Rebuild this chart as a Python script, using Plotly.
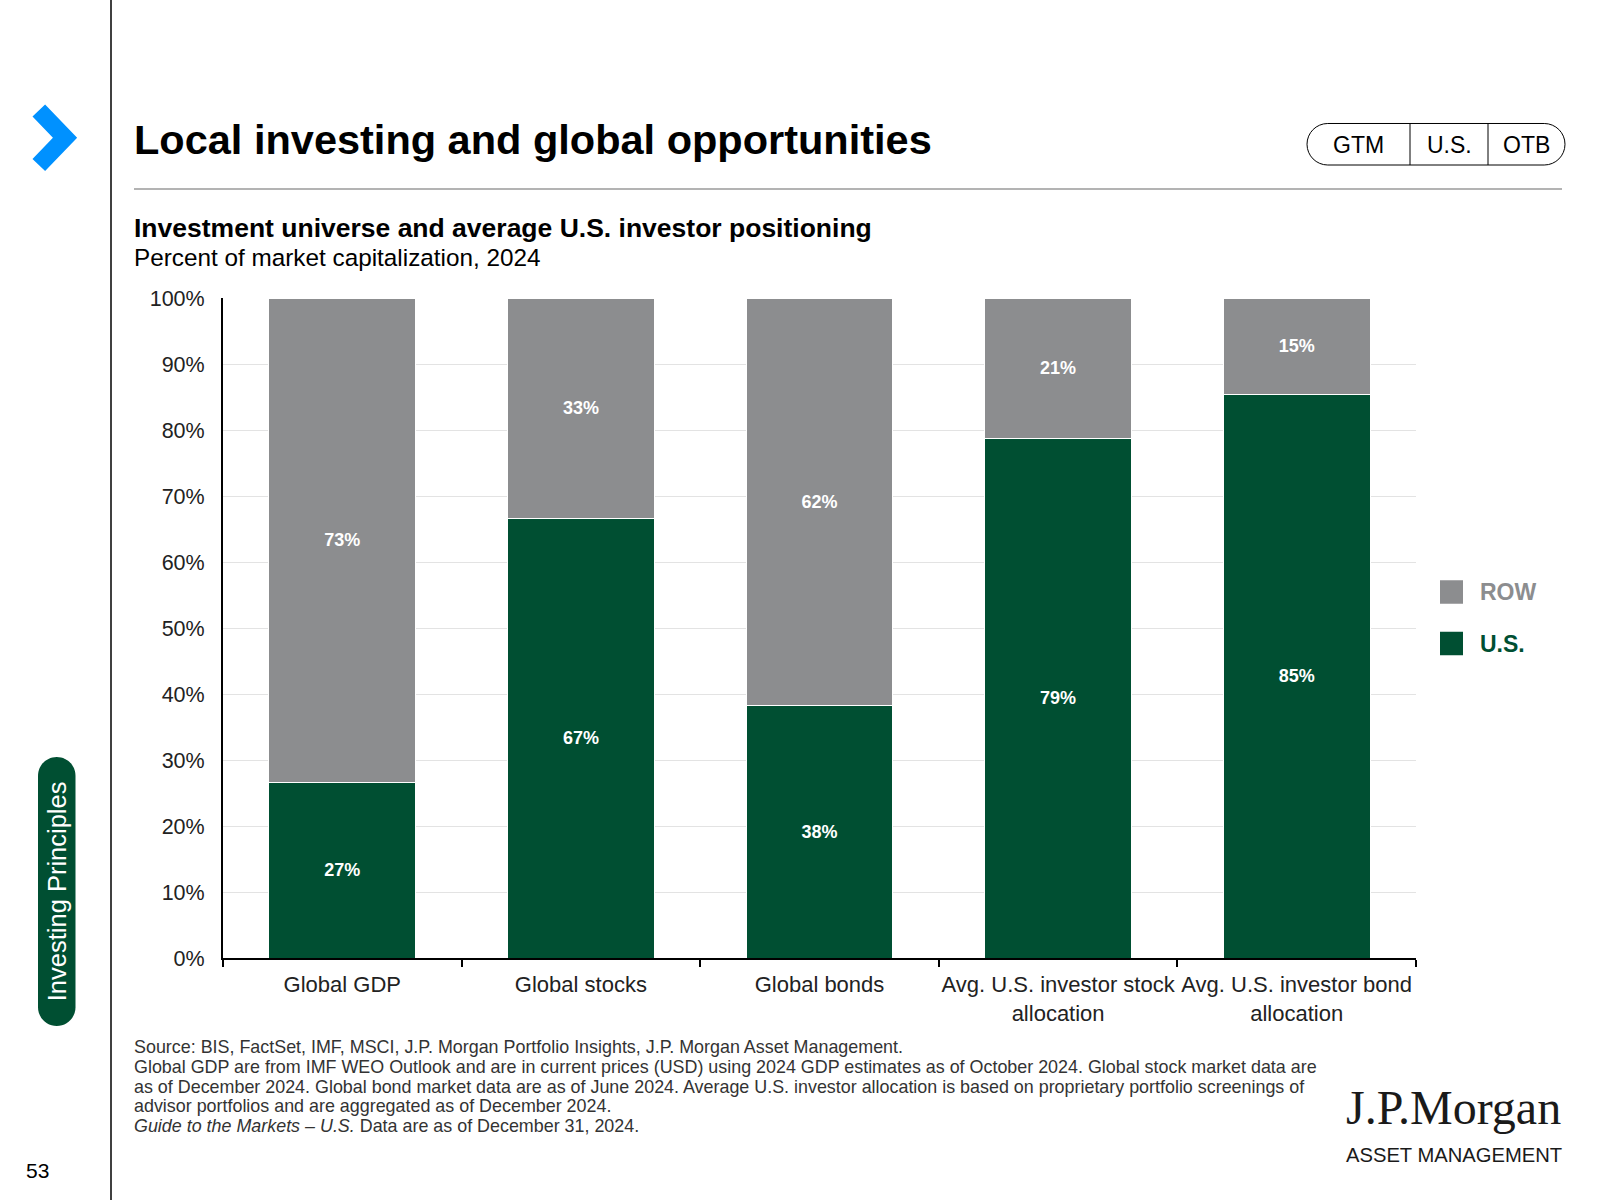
import plotly.graph_objects as go

# ---------------- data ----------------
categories = ["Global GDP", "Global stocks", "Global bonds",
              "Avg. U.S. investor stock<br>allocation",
              "Avg. U.S. investor bond<br>allocation"]
us_values = [26.6, 66.6, 38.3, 78.7, 85.4]
row_values = [73.4, 33.4, 61.7, 21.3, 14.6]
y_ticks = [0, 10, 20, 30, 40, 50, 60, 70, 80, 90, 100]
y_tick_labels = [f"{v}%" for v in y_ticks]

footnotes = [
    "Source: BIS, FactSet, IMF, MSCI, J.P. Morgan Portfolio Insights, J.P. Morgan Asset Management.",
    "Global GDP are from IMF WEO Outlook and are in current prices (USD) using 2024 GDP estimates as of October 2024. Global stock market data are",
    "as of December 2024. Global bond market data are as of June 2024. Average U.S. investor allocation is based on proprietary portfolio screenings of",
    "advisor portfolios and are aggregated as of December 2024.",
    "<i>Guide to the Markets – U.S.</i> Data are as of December 31, 2024.",
]

GREEN = "#004f32"
GRAY = "#8c8d8f"
BLUE = "#0091ff"
FONT = "Liberation Sans, Arial, sans-serif"

W, H = 1600, 1200
ML, MR, MT, MB = 223, 184, 298, 242
L, R, T, B = ML, W - MR, MT, H - MB


def px(x):
    return (x - L) / (R - L)


def py(y):
    return (B - y) / (B - T)


def path_from(points_cmds):
    out = []
    for cmd, pts in points_cmds:
        if cmd == "Z":
            out.append("Z")
            continue
        coords = " ".join(f"{px(x):.6f},{py(y):.6f}" for x, y in pts)
        out.append(f"{cmd} {coords}")
    return " ".join(out)


def rounded_rect(x0, y0, x1, y1, r):
    k = 0.5523 * r
    cmds = [
        ("M", [(x0 + r, y0)]),
        ("L", [(x1 - r, y0)]),
        ("C", [(x1 - r + k, y0), (x1, y0 + r - k), (x1, y0 + r)]),
        ("L", [(x1, y1 - r)]),
        ("C", [(x1, y1 - r + k), (x1 - r + k, y1), (x1 - r, y1)]),
        ("L", [(x0 + r, y1)]),
        ("C", [(x0 + r - k, y1), (x0, y1 - r + k), (x0, y1 - r)]),
        ("L", [(x0, y0 + r)]),
        ("C", [(x0, y0 + r - k), (x0 + r - k, y0), (x0 + r, y0)]),
        ("Z", []),
    ]
    return path_from(cmds)


fig = go.Figure()
fig.add_trace(go.Bar(
    x=categories, y=us_values, name="U.S.",
    marker=dict(color=GREEN, line=dict(color="white", width=1)),
    texttemplate="%{y:.0f}%", textposition="inside", insidetextanchor="middle",
    textangle=0,
    insidetextfont=dict(family=FONT, size=18, color="white", weight="bold"),
))
fig.add_trace(go.Bar(
    x=categories, y=row_values, name="ROW",
    marker=dict(color=GRAY, line=dict(color="white", width=1)),
    texttemplate="%{y:.0f}%", textposition="inside", insidetextanchor="middle",
    textangle=0,
    insidetextfont=dict(family=FONT, size=18, color="white", weight="bold"),
))

shapes = []
annotations = []

# left vertical divider
shapes.append(dict(type="line", xref="paper", yref="paper",
                   x0=px(111), x1=px(111), y0=py(0), y1=py(1200),
                   line=dict(color="black", width=1.5)))
# chevron
chev = path_from([("M", [(38.8, 110.5)]), ("L", [(65, 137.7)]), ("L", [(38.8, 165)])])
shapes.append(dict(type="path", xref="paper", yref="paper", path=chev,
                   line=dict(color=BLUE, width=17.5)))
# rule under title
shapes.append(dict(type="line", xref="paper", yref="paper",
                   x0=px(134), x1=px(1562), y0=py(189), y1=py(189),
                   line=dict(color="#9a9a9a", width=1.5)))
# GTM pill
shapes.append(dict(type="path", xref="paper", yref="paper",
                   path=rounded_rect(1307, 123.5, 1565, 165, 20.75),
                   line=dict(color="black", width=1)))
for xd in (1410, 1488):
    shapes.append(dict(type="line", xref="paper", yref="paper",
                       x0=px(xd), x1=px(xd), y0=py(123.5), y1=py(165),
                       line=dict(color="black", width=1)))
for label, xc in (("GTM", 1358), ("U.S.", 1449), ("OTB", 1526)):
    annotations.append(dict(text=label, xref="paper", yref="paper",
                            x=px(xc), y=py(145), xanchor="center", yanchor="middle",
                            showarrow=False, font=dict(family=FONT, size=23, color="black")))
# sidebar pill
shapes.append(dict(type="path", xref="paper", yref="paper",
                   path=rounded_rect(38, 757, 75.5, 1026, 18.75),
                   fillcolor=GREEN, line=dict(width=0)))
annotations.append(dict(text="Investing Principles", xref="paper", yref="paper",
                        x=px(56.75), y=py(891.5), xanchor="center", yanchor="middle",
                        textangle=-90, showarrow=False,
                        font=dict(family=FONT, size=25.5, color="white")))
# page number
annotations.append(dict(text="53", xref="paper", yref="paper",
                        x=px(37), y=py(1170), xanchor="center", yanchor="middle",
                        showarrow=False, font=dict(family=FONT, size=21, color="black")))
# title & subtitles
annotations.append(dict(text="<b>Local investing and global opportunities</b>",
                        xref="paper", yref="paper", x=px(132), y=py(140),
                        xanchor="left", yanchor="middle", showarrow=False,
                        font=dict(family=FONT, size=41.5, color="black")))
annotations.append(dict(text="<b>Investment universe and average U.S. investor positioning</b>",
                        xref="paper", yref="paper", x=px(132), y=py(228),
                        xanchor="left", yanchor="middle", showarrow=False,
                        font=dict(family=FONT, size=26.5, color="black")))
annotations.append(dict(text="Percent of market capitalization, 2024",
                        xref="paper", yref="paper", x=px(132), y=py(257),
                        xanchor="left", yanchor="middle", showarrow=False,
                        font=dict(family=FONT, size=24.3, color="black")))
# legend
for name, color, yc in (("ROW", GRAY, 592), ("U.S.", GREEN, 643.5)):
    shapes.append(dict(type="rect", xref="paper", yref="paper",
                       x0=px(1440), x1=px(1463), y0=py(yc - 11.75), y1=py(yc + 11.75),
                       fillcolor=color, line=dict(width=0)))
    annotations.append(dict(text=f"<b>{name}</b>", xref="paper", yref="paper",
                            x=px(1478), y=py(yc), xanchor="left", yanchor="middle",
                            showarrow=False, font=dict(family=FONT, size=23, color=color)))
# footnotes
for i, line in enumerate(footnotes):
    annotations.append(dict(text=line, xref="paper", yref="paper",
                            x=px(132), y=py(1047 + 19.8 * i), xanchor="left", yanchor="middle",
                            showarrow=False, font=dict(family=FONT, size=17.9, color="#333333")))
# logo
annotations.append(dict(text="J.P.Morgan", xref="paper", yref="paper",
                        x=px(1563), y=py(1107), xanchor="right", yanchor="middle",
                        showarrow=False,
                        font=dict(family="Liberation Serif, Times New Roman, serif", size=48, color="#1a1a1a")))
annotations.append(dict(text="ASSET MANAGEMENT", xref="paper", yref="paper",
                        x=px(1564), y=py(1155), xanchor="right", yanchor="middle",
                        showarrow=False,
                        font=dict(family=FONT, size=20.2, color="#1a1a1a")))

fig.update_layout(
    width=W, height=H,
    margin=dict(l=ML, r=MR, t=MT, b=MB, pad=0),
    paper_bgcolor="white", plot_bgcolor="white",
    barmode="stack", bargap=0.384,
    showlegend=False,
    font=dict(family=FONT, color="#222222"),
    shapes=shapes, annotations=annotations,
    xaxis=dict(
        type="category", showline=True, linecolor="black", linewidth=2,
        ticks="outside", tickson="boundaries", ticklen=7, tickwidth=1.5, tickcolor="black",
        tickfont=dict(family=FONT, size=22, color="#222222"),
        tickangle=0, ticklabelstandoff=6,
        showgrid=False, zeroline=False, fixedrange=True,
    ),
    yaxis=dict(
        range=[0, 100], tickvals=y_ticks, ticktext=y_tick_labels,
        showline=True, linecolor="black", linewidth=2, ticks="",
        showgrid=True, gridcolor="#e3e3e3", gridwidth=1, zeroline=False,
        tickfont=dict(family=FONT, size=21.5, color="#222222"),
        ticklabelstandoff=12, fixedrange=True,
    ),
)

fig.write_html("out.html", config={"displayModeBar": False},
               post_script="document.body.style.margin='0';document.body.style.overflow='hidden';")
